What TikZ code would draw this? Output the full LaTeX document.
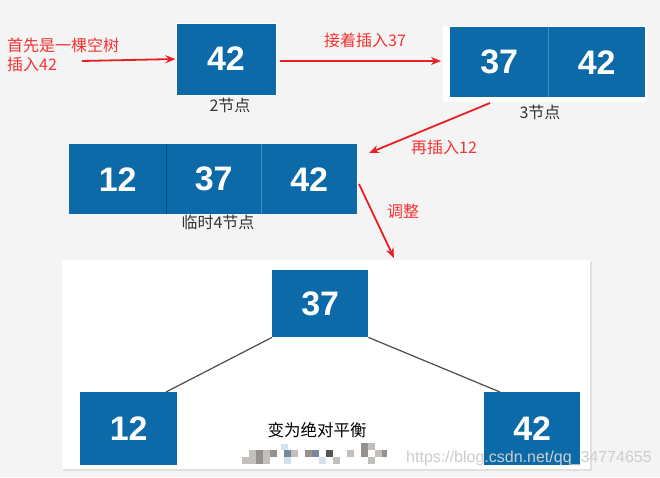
\documentclass[tikz,border=0pt]{standalone}
\usepackage{fontspec}
\setmainfont{Liberation Sans}
\newfontfamily\cjk{Noto Sans CJK SC}
\usetikzlibrary{arrows.meta,positioning}
\definecolor{bg}{RGB}{244,244,244}
\definecolor{nblue}{RGB}{12,106,168}
\definecolor{divl}{RGB}{60,140,200}
\definecolor{ared}{RGB}{235,30,35}
\definecolor{tred}{RGB}{245,50,50}
\definecolor{wm}{RGB}{205,205,205}
\definecolor{mz1}{RGB}{150,145,140}
\definecolor{mz2}{RGB}{195,192,188}
\definecolor{mz3}{RGB}{120,135,160}
\definecolor{mz4}{RGB}{90,85,85}
\definecolor{mz5}{RGB}{215,225,235}
\tikzset{
  cell/.style={fill=nblue, draw=none, text=white, inner sep=0pt,
    font=\fontsize{34}{36}\selectfont\bfseries, minimum height=#1},
  cell/.default=70pt,
  redarrow/.style={draw=ared, line width=1.8pt, -{Stealth[length=10pt,width=8pt]}},
  redtext/.style={text=tred, font=\cjk\fontsize{16}{19}\selectfont, inner sep=0pt, align=left},
  captext/.style={text=black!80, font=\cjk\fontsize{16}{18}\selectfont, inner sep=0pt},
  branch/.style={draw=black!70, line width=1.2pt},
  mz/.style={fill=#1, draw=none}
}
\begin{document}
\begin{tikzpicture}[x=1pt,y=-1pt]
\useasboundingbox (0,0) rectangle (660,477);
\fill[bg] (0,0) rectangle (660,477);

% ---- 2-node
\node[cell=72pt, minimum width=100pt, draw=white, line width=1pt] (n42) at (226,59) {42};
\node[captext] (c2) at (230,105) {2节点};
\node[redtext, anchor=west] (t1) at (7,55) {首先是一棵空树\\插入42};
\coordinate (s1) at (82,61);
\draw[redarrow] (s1) -- (n42.west);

% ---- 3-node
\fill[white] (443,26) rectangle (647,102);
\node[cell=70pt, minimum width=98pt, anchor=north west] (a37) at (450,27) {37};
\node[cell=70pt, minimum width=97pt, anchor=north west] (a42) at (548,27) {42};
\draw[divl, line width=0.4pt] (a37.north east) -- (a37.south east);
\node[captext] (c3) at (540,112) {3节点};
\coordinate (s2) at (280,61);
\draw[redarrow] (s2) -- (441,61);
\node[redtext, anchor=west] (t2) at (324,40) {接着插入37};

% ---- temp 4-node
\node[cell=70pt, minimum width=97pt, anchor=north west] (b12) at (69,144) {12};
\node[cell=70pt, minimum width=95pt, anchor=north west] (b37) at (166,144) {37};
\node[cell=70pt, minimum width=96pt, anchor=north west] (b42) at (261,144) {42};
\draw[black!30!nblue, line width=0.4pt] (b12.north east) -- (b12.south east);
\draw[divl, line width=0.6pt] (b37.north east) -- (b37.south east);
\node[captext] (c4) at (218,222) {临时4节点};
\coordinate (s3) at (490,103);
\coordinate (e3) at (369,153);
\draw[redarrow] (s3) -- (e3);
\node[redtext, anchor=west] (t3) at (411,147) {再插入12};

% ---- adjust arrow
\coordinate (s4) at (359,184);
\coordinate (e4) at (394,258);
\draw[redarrow] (s4) -- (e4);
\node[redtext, anchor=west] (t4) at (387,211) {调整};

% ---- bottom panel
\fill[black!12] (63,262) rectangle (592,471);
\fill[white] (62,260) rectangle (590,469);
\node[cell=67pt, minimum width=96pt, anchor=north west] (r37) at (272,270) {37};
\node[cell=73pt, minimum width=97pt, anchor=north west] (l12) at (80,392) {12};
\node[cell=73pt, minimum width=96pt, anchor=north west] (r42) at (484,392) {42};
\coordinate (j1) at (166,392);
\coordinate (j2) at (500,392);
\draw[branch] (r37.south west) -- (j1);
\draw[branch] (r37.south east) -- (j2);
\node[text=black, font=\cjk\fontsize{16.5}{18}\selectfont, inner sep=0pt] (bal) at (317,430) {变为绝对平衡};

% ---- mosaic blur
\fill[mz2] (249,450) rectangle (256,457);
\fill[mz1] (256,450) rectangle (263,464);
\fill[mz2] (263,450) rectangle (270,464);
\fill[mz1] (270,450) rectangle (277,457);
\fill[mz2] (242,457) rectangle (256,464);
\fill[mz5] (281,444) rectangle (288,450);
\fill[mz3] (284,450) rectangle (291,457);
\fill[mz2] (291,450) rectangle (298,457);
\fill[mz5] (284,457) rectangle (291,464);
\fill[mz1] (305,450) rectangle (312,457);
\fill[mz3] (312,450) rectangle (319,457);
\fill[mz4] (326,450) rectangle (333,457);
\fill[mz2] (333,457) rectangle (340,464);
\fill[mz5] (319,457) rectangle (326,464);
\fill[mz2] (347,450) rectangle (354,457);
\fill[mz1] (361,443) rectangle (368,450);
\fill[mz2] (368,443) rectangle (375,450);
\fill[mz1] (361,450) rectangle (368,457);
\fill[mz2] (375,450) rectangle (382,457);
\fill[mz1] (382,450) rectangle (387,457);
\fill[mz2] (368,457) rectangle (375,464);

\node[text=wm, font=\fontsize{16}{18}\selectfont, inner sep=0pt, anchor=west] (wmk) at (406,458) {https://blog.csdn.net/qq\_34774655};
\end{tikzpicture}
\end{document}
